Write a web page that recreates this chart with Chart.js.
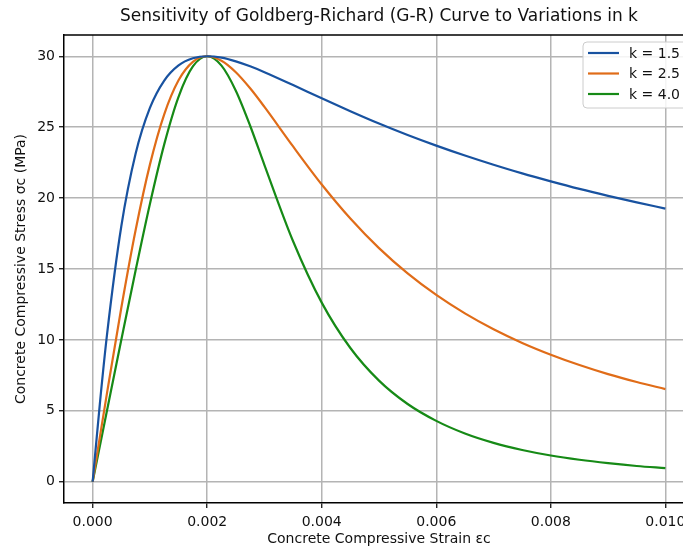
<!DOCTYPE html>
<html>
<head>
<meta charset="utf-8">
<script src="https://cdn.jsdelivr.net/npm/chart.js@4"></script>
<style>
html,body{margin:0;padding:0;background:#fff;overflow:hidden;width:683px;height:548px;}
#wrap{width:740px;height:548px;}
</style>
</head>
<body>
<div id="wrap"><canvas id="c" width="740" height="548"></canvas></div>
<script>
const chartTitle = "Sensitivity of Goldberg-Richard (G-R) Curve to Variations in k";
const xLabel = "Concrete Compressive Strain εc";
const yLabel = "Concrete Compressive Stress σc (MPa)";
const seriesNames = ["k = 1.5", "k = 2.5", "k = 4.0"];
const seriesColors = ["#1852a0", "#e06c18", "#168a16"];
const xTicks = [0, 0.002, 0.004, 0.006, 0.008, 0.010];
const yTicks = [0, 5, 10, 15, 20, 25, 30];

const strain = [0, 0.000125, 0.00025, 0.0005, 0.00075, 0.001, 0.00125, 0.0015, 0.00175, 0.002,
  0.00225, 0.0025, 0.00275, 0.003, 0.0035, 0.004, 0.0045, 0.005, 0.0055, 0.006,
  0.0065, 0.007, 0.0075, 0.008, 0.0085, 0.009, 0.0095, 0.010];
const stressK15 = [0, 5.46, 10.34, 18.00, 23.13, 26.36, 28.29, 29.36, 29.86, 30.00,
  29.90, 29.64, 29.29, 28.88, 27.97, 27.04, 26.13, 25.26, 24.45, 23.70,
  23.00, 22.35, 21.74, 21.18, 20.65, 20.16, 19.70, 19.26];
const stressK25 = [0, 3.12, 6.23, 12.25, 17.73, 22.36, 25.91, 28.31, 29.61, 30.00,
  29.68, 28.87, 27.74, 26.43, 23.64, 20.96, 18.56, 16.47, 14.69, 13.17,
  11.87, 10.75, 9.79, 8.96, 8.23, 7.59, 7.03, 6.53];
const stressK40 = [0, 2.50, 5.00, 9.99, 14.90, 19.59, 23.79, 27.14, 29.28, 30.00,
  29.34, 27.57, 25.10, 22.33, 16.96, 12.63, 9.43, 7.13, 5.48, 4.29,
  3.40, 2.74, 2.24, 1.85, 1.55, 1.31, 1.11, 0.96];

const seriesValues = [stressK15, stressK25, stressK40];
const FONT = "'DejaVu Sans', sans-serif";
const TXT = '#111';

const datasets = seriesValues.map((vals, i) => ({
  label: seriesNames[i],
  data: strain.map((s, j) => ({x: s, y: vals[j]})),
  borderColor: seriesColors[i],
  backgroundColor: seriesColors[i],
  borderWidth: 2.2,
  pointRadius: 0,
  fill: false,
  cubicInterpolationMode: 'monotone'
}));

const decor = {
  id: 'decor',
  afterDraw(chart) {
    const ctx = chart.ctx, a = chart.chartArea;
    ctx.save();
    ctx.strokeStyle = '#000'; ctx.lineWidth = 1.5;
    ctx.beginPath(); ctx.moveTo(a.left, a.top); ctx.lineTo(a.right, a.top); ctx.lineTo(a.right, a.bottom); ctx.stroke();
    const cx = (a.left + a.right) / 2;
    ctx.fillStyle = TXT;
    ctx.textAlign = 'center'; ctx.textBaseline = 'middle';
    ctx.font = "17px " + FONT;
    ctx.fillText(chartTitle, cx, 17);
    ctx.font = "14px " + FONT;
    ctx.fillText(xLabel, cx, 539);
    ctx.save();
    ctx.translate(21, (a.top + a.bottom) / 2);
    ctx.rotate(-Math.PI / 2);
    ctx.fillText(yLabel, 0, 0);
    ctx.restore();
    // legend
    const lx = 583, ly = 42, lw = 120, lh = 66;
    ctx.fillStyle = 'rgba(255,255,255,0.85)';
    ctx.strokeStyle = '#cccccc'; ctx.lineWidth = 1;
    ctx.beginPath();
    ctx.roundRect(lx, ly, lw, lh, 4);
    ctx.fill(); ctx.stroke();
    ctx.textAlign = 'left';
    chart.data.datasets.forEach((d, i) => {
      const y = 53 + i * 20.5;
      ctx.strokeStyle = d.borderColor; ctx.lineWidth = 2.2;
      ctx.beginPath(); ctx.moveTo(588, y); ctx.lineTo(619, y); ctx.stroke();
      ctx.fillStyle = TXT;
      ctx.font = "14px " + FONT;
      ctx.fillText(d.label, 629, y + 1);
    });
    ctx.restore();
  }
};

new Chart(document.getElementById('c'), {
  type: 'line',
  data: { datasets },
  options: {
    responsive: false,
    animation: false,
    layout: { padding: { top: 35, right: 46, left: 0, bottom: 0 } },
    plugins: { legend: { display: false }, title: { display: false }, tooltip: { enabled: false } },
    scales: {
      x: {
        type: 'linear',
        min: -0.0005, max: 0.0105,
        afterFit(s) { s.height = 45; },
        afterBuildTicks(s) { s.ticks = xTicks.map(v => ({value: v})); },
        ticks: {
          font: { family: FONT, size: 14 }, color: TXT, padding: 6,
          maxRotation: 0, autoSkip: false,
          callback: v => v.toFixed(3)
        },
        grid: { color: '#b4b4b4', lineWidth: 1.5, tickColor: '#000', tickLength: 5, tickWidth: 1.2 },
        border: { color: '#000', width: 1.5 }
      },
      y: {
        type: 'linear',
        min: -1.5, max: 31.5,
        afterFit(s) { s.width = 64; },
        afterBuildTicks(s) { s.ticks = yTicks.map(v => ({value: v})); },
        ticks: {
          font: { family: FONT, size: 14 }, color: TXT, padding: 4, autoSkip: false,
          callback: v => String(v)
        },
        grid: { color: '#b4b4b4', lineWidth: 1.5, tickColor: '#000', tickLength: 5, tickWidth: 1.2 },
        border: { color: '#000', width: 1.5 }
      }
    }
  },
  plugins: [decor]
});
</script>
</body>
</html>
